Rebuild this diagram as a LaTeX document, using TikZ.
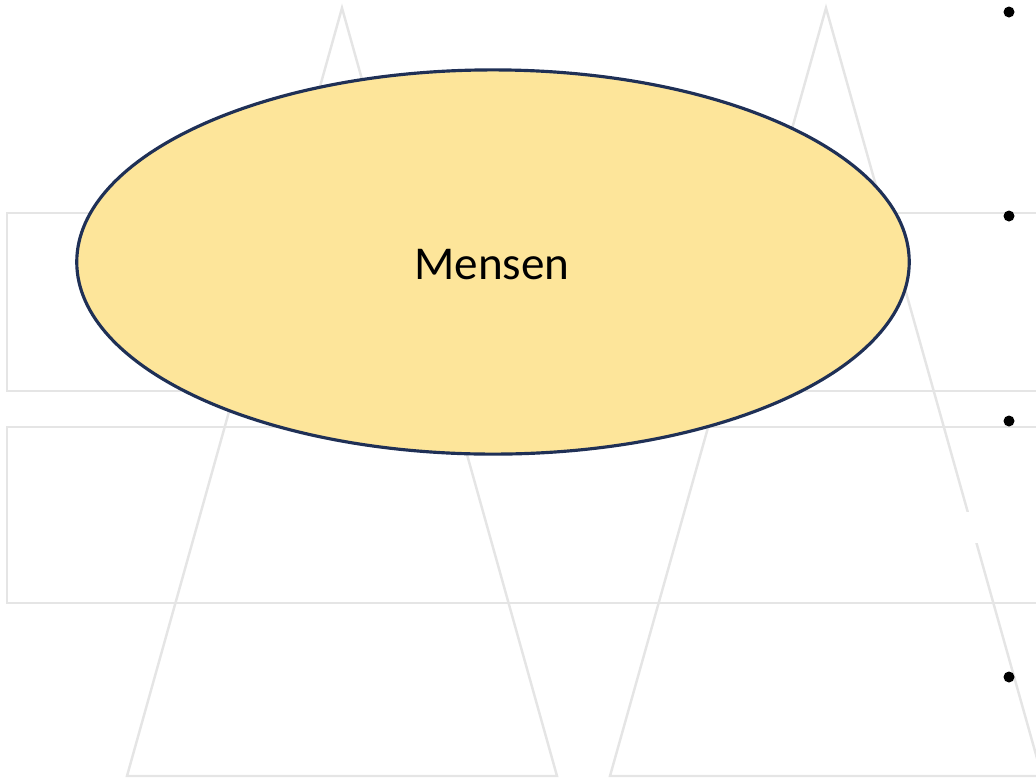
\documentclass[tikz,border=0pt]{standalone}
\usepackage{fontspec}
\setmainfont{Carlito}
\usepackage{tikz}
\usetikzlibrary{shapes.geometric}
\definecolor{lijngrijs}{HTML}{E5E5E5}
\definecolor{geel}{HTML}{FDE59A}
\definecolor{navy}{HTML}{1F3056}

\begin{document}
\begin{tikzpicture}[x=0.01cm,y=-0.01cm,line cap=round,
  achter/.style={draw=lijngrijs,line width=0.7pt},
  punt/.style={fill=black},
  ovaal/.style={ellipse,draw=navy,fill=geel,line width=0.9pt,minimum width=8.32cm,minimum height=3.84cm,inner sep=0pt}]
\useasboundingbox (0,0) rectangle (1036,778);
% achtergrond
\begin{scope}
\clip (0,0) rectangle (1036,778);
\draw[achter] (7,213) rectangle (1050,391);
\draw[achter] (7,427) rectangle (1050,603);
\draw[achter] (127,776) -- (342,8) -- (557,776) -- cycle;
\draw[achter] (610,776) -- (826,8) -- (1042,776) -- cycle;
\fill[white] (962,512) rectangle (980,543);
\end{scope}
% opsommingstekens
\fill[punt] (1009,12) circle (0.055cm);
\fill[punt] (1009,216) circle (0.055cm);
\fill[punt] (1009,421) circle (0.055cm);
\fill[punt] (1009,677) circle (0.055cm);
\node[ovaal] (mensen) at (493,262) {};
\node[font=\fontsize{13.4}{16}\selectfont] (tekst) at (492,265) {Mensen};
\end{tikzpicture}
\end{document}
